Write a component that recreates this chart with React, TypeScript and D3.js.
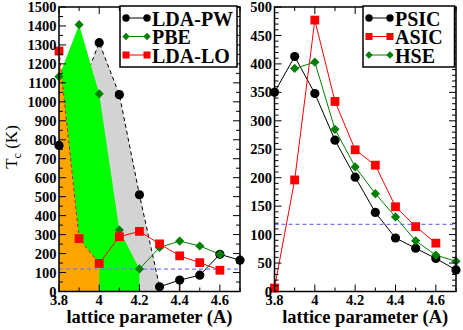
import React from "react";
import * as d3 from "d3";

// ---------- data ----------
const ldaPwX = [3.8, 4.0, 4.1, 4.2, 4.3, 4.4, 4.5, 4.6, 4.7];
const ldaPwY = [770, 1312, 1038, 510, 25, 60, 86, 196, 165];
const pbeX = [3.8, 3.9, 4.0, 4.1, 4.2, 4.3, 4.4, 4.5, 4.6];
const pbeY = [1133, 1407, 1042, 324, 119, 232, 266, 240, 196];
const ldaLoX = [3.8, 3.9, 4.0, 4.1, 4.2, 4.3, 4.4, 4.5, 4.6];
const ldaLoY = [1268, 279, 148, 289, 317, 251, 188, 152, 112];

const psicX = [3.8, 3.9, 4.0, 4.1, 4.2, 4.3, 4.4, 4.5, 4.6, 4.7];
const psicY = [350, 413, 348, 266, 201, 139, 94, 76, 58, 38];
const asicX = [3.8, 3.9, 4.0, 4.1, 4.2, 4.3, 4.4, 4.5, 4.6];
const asicY = [6, 196, 477, 334, 249, 222, 149, 114, 85];
const hseX = [3.9, 4.0, 4.1, 4.2, 4.3, 4.4, 4.5, 4.6, 4.7];
const hseY = [392, 403, 285, 219, 172, 131, 89, 64, 53];

const refLine = 118;
const xTicks = [3.8, 4.0, 4.2, 4.4, 4.6];
const xTickLabels = ["3.8", "4", "4.2", "4.4", "4.6"];
const leftYTicks = d3.range(0, 1501, 100);
const rightYTicks = d3.range(0, 501, 50);
const leftLegend = ["LDA-PW", "PBE", "LDA-LO"];
const rightLegend = ["PSIC", "ASIC", "HSE"];

const FONT = "Liberation Serif, Times New Roman, serif";
const TOP = 7;
const BOTTOM = 291.5;
const DKGREEN = "#008000";
const BLUE = "#7878ff";

type Pt = [number, number];
const zip = (xs: number[], ys: number[]): Pt[] => xs.map((x, i) => [x, ys[i]]);

function Marker({ kind, x, y, s = 1 }: { kind: string; x: number; y: number; s?: number }) {
  if (kind === "circle") return <circle cx={x} cy={y} r={4.6 * s} fill="black" />;
  if (kind === "square") {
    const h = 4.4 * s;
    return <rect x={x - h} y={y - h} width={2 * h} height={2 * h} fill="red" />;
  }
  const h = 4.6 * s;
  return <path d={`M${x},${y - h}L${x + h},${y}L${x},${y + h}L${x - h},${y}Z`} fill={DKGREEN} />;
}

function Frame({ x0, x1, xs, ys, yTicks, yMinorStep, yMax }: any) {
  const xMinor = d3.range(3.8, 4.701, 0.1);
  const yMinor = d3.range(0, yMax + 0.001, yMinorStep);
  const maj = 7;
  const mnr = 4;
  return (
    <g>
      {xMinor.map((t, i) => {
        const isMaj = Math.abs(((t - 3.8) / 0.2) - Math.round((t - 3.8) / 0.2)) < 1e-6;
        const L = isMaj ? maj : mnr;
        return (
          <g key={"xt" + i} stroke="black" strokeWidth={1}>
            <line x1={xs(t)} x2={xs(t)} y1={BOTTOM} y2={BOTTOM - L} />
            <line x1={xs(t)} x2={xs(t)} y1={TOP} y2={TOP + L} />
          </g>
        );
      })}
      {yMinor.map((t, i) => {
        const isMaj = yTicks.includes(Math.round(t));
        const L = isMaj ? maj : mnr;
        return (
          <g key={"yt" + i} stroke="black" strokeWidth={1}>
            <line x1={x0} x2={x0 + L} y1={ys(t)} y2={ys(t)} />
            <line x1={x1} x2={x1 - L} y1={ys(t)} y2={ys(t)} />
          </g>
        );
      })}
      <rect x={x0} y={TOP} width={x1 - x0} height={BOTTOM - TOP} fill="none" stroke="black" strokeWidth={1.5} />
      {yTicks.map((t: number) => (
        <text key={"yl" + t} x={x0 - 2.5} y={ys(t)} dy="0.35em" textAnchor="end" style={{ fontFamily: FONT }} fontWeight="bold" fontSize={14.5}>
          {t}
        </text>
      ))}
      {xTicks.map((t, i) => (
        <text key={"xl" + t} x={xs(t)} y={305} textAnchor="middle" style={{ fontFamily: FONT }} fontWeight="bold" fontSize={14.5}>
          {xTickLabels[i]}
        </text>
      ))}
      <text x={(x0 + x1) / 2} y={323} textAnchor="middle" style={{ fontFamily: FONT }} fontWeight="bold" fontSize={18.5}>
        lattice parameter (A)
      </text>
    </g>
  );
}

function Legend({ x, y, w, h, names, kinds, colors }: any) {
  const rows = [18, 36.5, 55];
  return (
    <g>
      <rect x={x} y={y} width={w} height={h} fill="white" stroke="black" strokeWidth={1.5} />
      {names.map((n: string, i: number) => (
        <g key={n}>
          <line x1={x + 6} x2={x + 27} y1={rows[i]} y2={rows[i]} stroke={colors[i]} strokeWidth={1} />
          <Marker kind={kinds[i]} x={x + 6} y={rows[i]} s={0.8} />
          <Marker kind={kinds[i]} x={x + 27} y={rows[i]} s={0.8} />
          <text x={x + 32} y={rows[i] + 7.5} style={{ fontFamily: FONT }} fontWeight="bold" fontSize={20}>
            {n}
          </text>
        </g>
      ))}
    </g>
  );
}

export default function App() {
  const lx = d3.scaleLinear().domain([3.8, 4.7]).range([59, 240]);
  const ly = d3.scaleLinear().domain([0, 1500]).range([BOTTOM, TOP]);
  const rx = d3.scaleLinear().domain([3.8, 4.7]).range([274.5, 456]);
  const ry = d3.scaleLinear().domain([0, 500]).range([BOTTOM, TOP]);

  const lline = d3.line<Pt>().x((d) => lx(d[0])).y((d) => ly(d[1]));
  const rline = d3.line<Pt>().x((d) => rx(d[0])).y((d) => ry(d[1]));

  const pw = zip(ldaPwX, ldaPwY);
  const pbe = zip(pbeX, pbeY);
  const lo = zip(ldaLoX, ldaLoY);

  const grayPoly: Pt[] = [[3.8, 0], ...pw.filter((d) => d[0] <= 4.3 + 1e-9), [4.3, 0]];
  const greenPoly: Pt[] = [[3.8, 0], ...pbe.filter((d) => d[0] <= 4.2 + 1e-9), [4.2, 0]];
  const orangePoly: Pt[] = [[3.8, 0], ...lo.filter((d) => d[0] <= 4.0 + 1e-9), [4.0, 0]];

  return (
    <svg width={463} height={330} style={{ position: "absolute", left: 0, top: 0, background: "white" }}>
      {/* Left panel */}
      <g>
        <path d={lline(grayPoly) + "Z"} fill="#d3d3d3" />
        <path d={lline(pw.filter((d) => d[0] <= 4.3 + 1e-9))!} fill="none" stroke="black" strokeWidth={1} strokeDasharray="4,3" />
        <path d={lline(greenPoly) + "Z"} fill="#00ff00" />
        <path d={lline(orangePoly) + "Z"} fill="#ffa500" />
        <path d={lline(lo.filter((d) => d[0] <= 4.0 + 1e-9))!} fill="none" stroke="red" strokeWidth={1} strokeDasharray="3,3" />
        <line x1={lx(4.4)} x2={lx(4.4)} y1={ly(0)} y2={ly(60)} stroke="#999" strokeWidth={2} />
        <path d={lline(pw.filter((d) => d[0] >= 4.3 - 1e-9))!} fill="none" stroke="black" strokeWidth={1} />
        <path d={lline(pbe.filter((d) => d[0] >= 4.2 - 1e-9))!} fill="none" stroke={DKGREEN} strokeWidth={1} />
        <path d={lline(lo.filter((d) => d[0] >= 4.0 - 1e-9))!} fill="none" stroke="red" strokeWidth={1} />
        <line x1={lx(3.8)} x2={lx(4.7)} y1={ly(refLine)} y2={ly(refLine)} stroke={BLUE} strokeWidth={1.3} strokeDasharray="4,3" />
        {pw.map((d, i) => <Marker key={"pw" + i} kind="circle" x={lx(d[0])} y={ly(d[1])} />)}
        {pbe.map((d, i) => <Marker key={"pbe" + i} kind="diamond" x={lx(d[0])} y={ly(d[1])} />)}
        {lo.map((d, i) => <Marker key={"lo" + i} kind="square" x={lx(d[0])} y={ly(d[1])} />)}
        <Frame x0={59} x1={240} xs={lx} ys={ly} yTicks={leftYTicks} yMinorStep={50} yMax={1500} />
        <Legend x={120} y={6} w={117} h={61} names={leftLegend} kinds={["circle", "diamond", "square"]} colors={["black", DKGREEN, "red"]} />
      </g>

      {/* Right panel */}
      <g>
        <line x1={rx(3.8)} x2={rx(4.7)} y1={ry(refLine)} y2={ry(refLine)} stroke={BLUE} strokeWidth={1.3} strokeDasharray="4,3" />
        <path d={rline(zip(psicX, psicY))!} fill="none" stroke="black" strokeWidth={1} />
        <path d={rline(zip(asicX, asicY))!} fill="none" stroke="red" strokeWidth={1} />
        <path d={rline(zip(hseX, hseY))!} fill="none" stroke={DKGREEN} strokeWidth={1} />
        {zip(psicX, psicY).map((d, i) => <Marker key={"ps" + i} kind="circle" x={rx(d[0])} y={ry(d[1])} />)}
        {zip(asicX, asicY).map((d, i) => <Marker key={"as" + i} kind="square" x={rx(d[0])} y={ry(d[1])} />)}
        {zip(hseX, hseY).map((d, i) => <Marker key={"hs" + i} kind="diamond" x={rx(d[0])} y={ry(d[1])} />)}
        <Frame x0={274.5} x1={456} xs={rx} ys={ry} yTicks={rightYTicks} yMinorStep={10} yMax={500} />
        <Legend x={363} y={6} w={91.5} h={61} names={rightLegend} kinds={["circle", "square", "diamond"]} colors={["black", "red", DKGREEN]} />
      </g>

      {/* Y axis title */}
      <text transform="translate(17,147) rotate(-90)" textAnchor="middle" style={{ fontFamily: FONT }} fontSize={17}>
        T<tspan fontSize={12} dy={4}>c</tspan>
        <tspan dy={-4}> (K)</tspan>
      </text>
    </svg>
  );
}
